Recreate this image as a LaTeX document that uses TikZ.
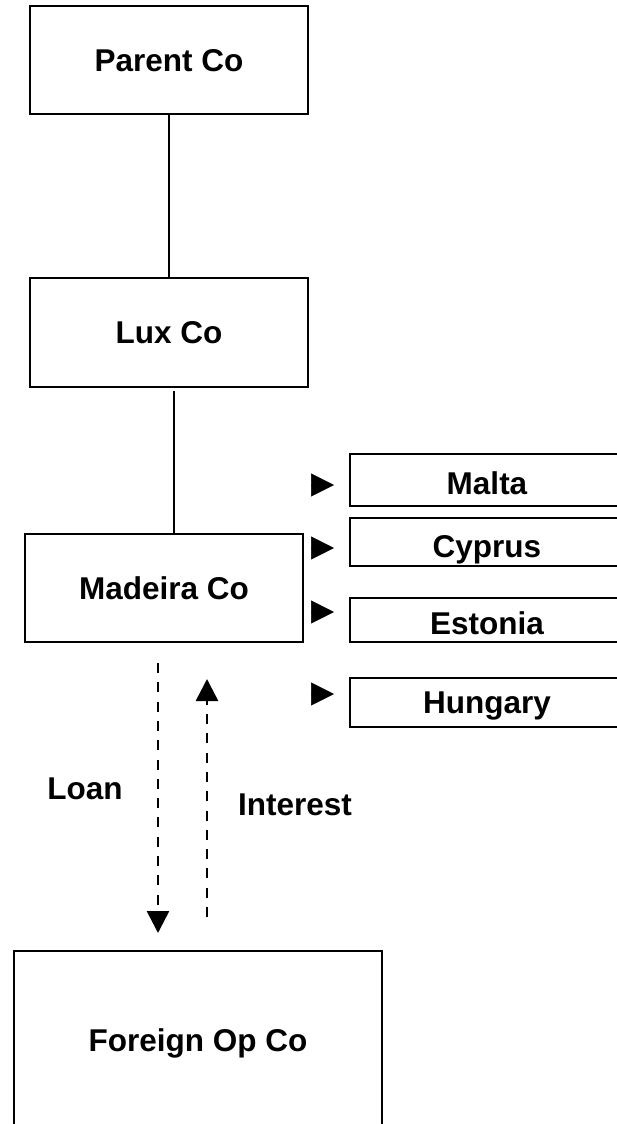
\documentclass[tikz,border=0pt]{standalone}
\usepackage{fontspec}
\setmainfont{Liberation Sans}
\usetikzlibrary{arrows.meta,calc}

\tikzset{
  lbl/.style={font=\bfseries\fontsize{31.5}{36}\selectfont, text height=22.6pt, text depth=0pt, inner sep=0pt},
  box/.style={lbl, draw, line width=2pt, rectangle, minimum width=#1},
  box/.default=278pt,
  link/.style={line width=2pt},
  thinlink/.style={line width=1.3pt},
  flow/.style={line width=2.6pt, dash pattern=on 10pt off 9.3pt,
               -{Triangle[length=22pt,width=22pt]}},
  pointer/.style={line width=0.5pt, -{Triangle[length=23pt,width=23pt]}},
}

\begin{document}
\begin{tikzpicture}[x=1pt,y=-1pt]
  \useasboundingbox (0,0) rectangle (617,1124);
  \clip (0,0) rectangle (617,1124);

  % ownership chain
  \node[box, minimum height=108pt] (parent)  at (169,60)    {Parent Co};
  \node[box, minimum height=109pt] (lux)     at (169,332.5) {Lux Co};
  \node[box, minimum height=108pt] (madeira) at (164,588)   {Madeira Co};
  \node[box=368pt, minimum height=178pt] (foreign) at (198,1040) {Foreign Op Co};

  % candidate jurisdictions
  \node[box=274pt, minimum height=52pt, text height=28.6pt] (malta)   at (487,480)   {Malta};
  \node[box=274pt, minimum height=48pt, text height=30.6pt] (cyprus)  at (487,542)   {Cyprus};
  \node[box=274pt, minimum height=44pt, text height=28.6pt] (estonia) at (487,620)   {Estonia};
  \node[box=274pt, minimum height=49pt] (hungary) at (487,702.5) {Hungary};

  % vertical links
  \draw[link] (parent.south) -- (lux.north);
  \coordinate (lmx) at (174,0);
  \draw[thinlink] ($(lux.south -| lmx)+(0,3)$) -- (madeira.north -| lmx);

  % pointers towards the jurisdictions
  \coordinate (pm) at (311,485);
  \coordinate (pc) at (311,548);
  \coordinate (pe) at (311,612);
  \coordinate (ph) at (311,694);
  \draw[pointer, shorten >=15pt] (pm) -- (pm -| malta.west);
  \draw[pointer, shorten >=15pt] (pc) -- (pc -| cyprus.west);
  \draw[pointer, shorten >=15pt] (pe) -- (pe -| estonia.west);
  \draw[pointer, shorten >=15pt] (ph) -- (ph -| hungary.west);

  % loan and interest flows
  \coordinate (loanx) at (158,0);
  \coordinate (intx)  at (207,0);
  \draw[flow, shorten <=20pt, shorten >=17pt] (madeira.south -| loanx) -- (foreign.north -| loanx);
  \draw[flow, shorten <=33pt, shorten >=36pt] (foreign.north -| intx) -- (madeira.south -| intx);

  \node[lbl] (loan)     at (85,788.5)  {Loan};
  \node[lbl] (interest) at (295,804)   {Interest};
\end{tikzpicture}
\end{document}
